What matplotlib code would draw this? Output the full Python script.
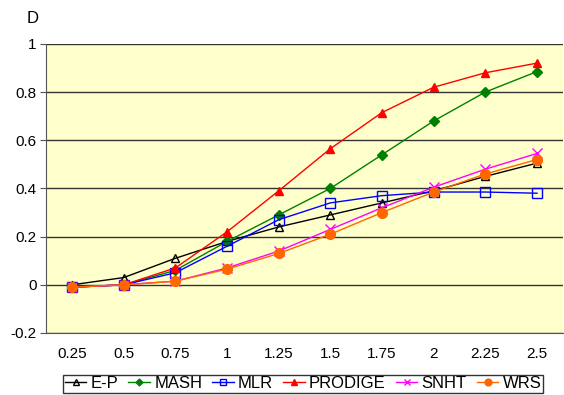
import numpy as np
import matplotlib.pyplot as plt

plt.rcParams['font.family'] = ['Liberation Sans', 'DejaVu Sans']

shifts = ['0.25', '0.5', '0.75', '1', '1.25', '1.5', '1.75', '2', '2.25', '2.5']
ep = [0.0, 0.03, 0.11, 0.18, 0.24, 0.29, 0.34, 0.39, 0.45, 0.505]
mash = [-0.01, 0.0, 0.06, 0.18, 0.29, 0.40, 0.54, 0.68, 0.80, 0.885]
mlr = [-0.01, 0.0, 0.05, 0.16, 0.27, 0.34, 0.37, 0.385, 0.385, 0.38]
prodige = [-0.01, 0.0, 0.07, 0.22, 0.39, 0.565, 0.715, 0.82, 0.88, 0.92]
snht = [-0.01, 0.0, 0.015, 0.07, 0.14, 0.23, 0.32, 0.405, 0.48, 0.545]
wrs = [-0.01, 0.0, 0.015, 0.065, 0.13, 0.21, 0.30, 0.385, 0.46, 0.52]

fig = plt.figure(figsize=(5.64, 3.95), dpi=100)
ax = fig.add_axes([0.082, 0.157, 0.916, 0.732])
ax.set_facecolor('#FFFFCC')

x = np.arange(len(shifts))
ax.plot(x, ep, color='black', lw=1, marker='^', mfc='none', mec='black', ms=6, label='E-P')
ax.plot(x, mash, color='#008000', lw=1, marker='D', mfc='#008000', mec='#008000', ms=5, label='MASH')
ax.plot(x, mlr, color='blue', lw=1, marker='s', mfc='none', mec='blue', ms=7, label='MLR')
ax.plot(x, prodige, color='red', lw=1, marker='^', mfc='red', mec='red', ms=6, label='PRODIGE')
ax.plot(x, snht, color='magenta', lw=1, marker='x', mec='magenta', ms=7, label='SNHT')
ax.plot(x, wrs, color='#FF6600', lw=1, marker='o', mfc='#FF6600', mec='#FF6600', ms=7, label='WRS')

ax.set_xlim(-0.5, len(shifts) - 0.5)
ax.set_ylim(-0.2, 1.0)
ax.set_yticks(np.arange(-0.2, 1.01, 0.2))
ax.set_yticklabels(['-0.2', '0', '0.2', '0.4', '0.6', '0.8', '1'])
ax.set_xticks(x)
ax.set_xticklabels(shifts)
ax.yaxis.grid(True, color='#333333', lw=1)
ax.set_axisbelow(True)
ax.tick_params(axis='both', labelsize=11)
ax.tick_params(axis='x', length=0, pad=10)
ax.tick_params(axis='y', length=4, color='#555555', pad=3)
for side in ['top', 'right']:
    ax.spines[side].set_visible(False)
ax.spines['left'].set_color('#555555')
ax.spines['bottom'].set_color('#555555')

fig.text(0.048, 0.954, 'D', fontsize=12, va='center')

leg = ax.legend(loc='upper center', bbox_to_anchor=(0.497, -0.115), ncol=6, fontsize=12,
                frameon=True, fancybox=False, edgecolor='black', handlelength=1.3,
                handletextpad=0.25, columnspacing=0.6, borderpad=0.1, markerscale=0.7)
leg.get_frame().set_linewidth(1)

fig.savefig('out.png', dpi=100)
